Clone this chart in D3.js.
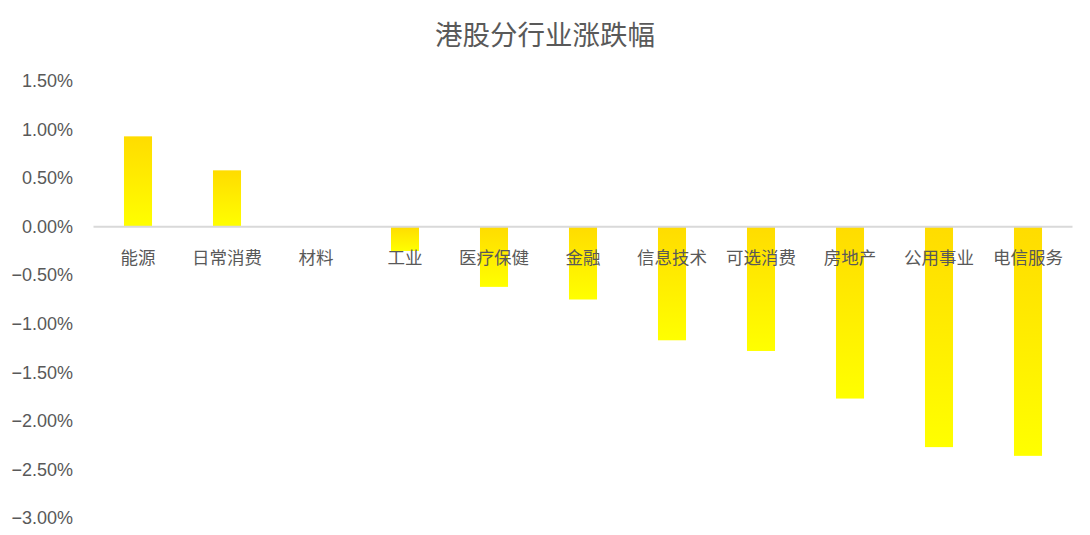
<!DOCTYPE html>
<html>
<head>
<meta charset="utf-8">
<script src="https://cdn.jsdelivr.net/npm/d3@7"></script>
<style>
  html, body { margin: 0; padding: 0; background: #fff; }
  svg { display: block; }
</style>
</head>
<body>
<svg id="chart" width="1090" height="535"></svg>
<script>
const title = "港股分行业涨跌幅";
const categories = ["能源", "日常消费", "材料", "工业", "医疗保健", "金融", "信息技术", "可选消费", "房地产", "公用事业", "电信服务"];
const values = [0.93, 0.58, 0.00, -0.25, -0.62, -0.75, -1.17, -1.28, -1.77, -2.27, -2.36];
const yTicks = [1.5, 1.0, 0.5, 0.0, -0.5, -1.0, -1.5, -2.0, -2.5, -3.0];

const svg = d3.select("#chart");
const textColor = "#595959";
const cjk = "'Noto Sans CJK SC', 'Liberation Sans', sans-serif";
const latin = "'Liberation Sans', 'Noto Sans CJK SC', sans-serif";

const x = d3.scaleBand()
  .domain(categories)
  .range([93.5, 1072.5])
  .paddingInner(0.685)
  .paddingOuter(0.3425);

const y = d3.scaleLinear()
  .domain([-3, 1.5])
  .range([518, 81]);

// gradient
const defs = svg.append("defs");
const grad = defs.append("linearGradient")
  .attr("id", "barGrad")
  .attr("x1", 0).attr("y1", 0).attr("x2", 0).attr("y2", 1);
grad.append("stop").attr("offset", "0%").attr("stop-color", "#FFDC00");
grad.append("stop").attr("offset", "100%").attr("stop-color", "#FFFF00");

// title
svg.append("text")
  .attr("x", 545).attr("y", 33)
  .attr("text-anchor", "middle")
  .attr("dominant-baseline", "central")
  .style("font-family", cjk)
  .style("font-size", "27.5px")
  .style("fill", textColor)
  .text(title);

// y axis labels
const yAxis = d3.axisLeft(y)
  .tickValues(yTicks)
  .tickSize(0)
  .tickPadding(0)
  .tickFormat(d => (d < 0 ? "\u2212" : "") + Math.abs(d).toFixed(2) + "%");

const yg = svg.append("g")
  .attr("transform", "translate(73,0)")
  .call(yAxis);
yg.select(".domain").remove();
yg.selectAll("text")
  .style("font-family", latin)
  .style("font-size", "18px")
  .style("fill", textColor);

// bars
svg.append("g").selectAll("rect")
  .data(values)
  .join("rect")
  .attr("x", (d, i) => x(categories[i]))
  .attr("width", x.bandwidth())
  .attr("y", d => y(Math.max(0, d)))
  .attr("height", d => Math.abs(y(d) - y(0)))
  .attr("fill", "url(#barGrad)");

// zero line
svg.append("line")
  .attr("x1", x.range()[0]).attr("x2", x.range()[1])
  .attr("y1", y(0)).attr("y2", y(0))
  .attr("stroke", "#d9d9d9")
  .attr("stroke-width", 2);

// category labels (x axis at zero)
const xAxis = d3.axisBottom(x).tickSize(0).tickPadding(0);
const xg = svg.append("g")
  .attr("transform", `translate(0,${y(0)})`)
  .call(xAxis);
xg.select(".domain").remove();
xg.selectAll("text")
  .attr("y", 30)
  .attr("dy", null)
  .attr("dominant-baseline", "central")
  .style("font-family", cjk)
  .style("font-size", "17.5px")
  .style("fill", textColor);
</script>
</body>
</html>
